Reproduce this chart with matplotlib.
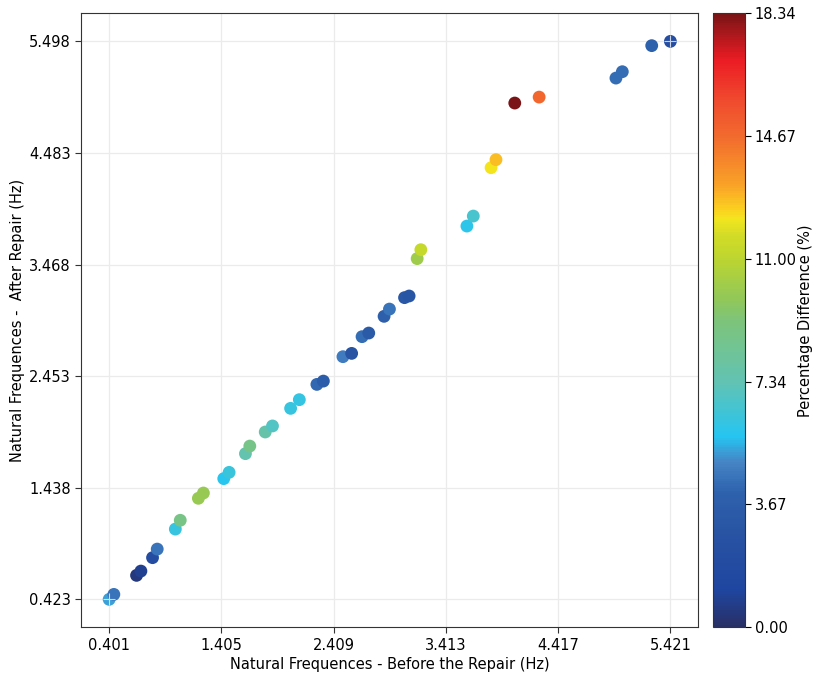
import numpy as np
import matplotlib
matplotlib.use("Agg")
import matplotlib.pyplot as plt
from matplotlib.colors import LinearSegmentedColormap

before_hz = [0.401, 0.443, 0.646, 0.685, 0.789, 0.831, 0.993, 1.037, 1.199, 1.244,
             1.426, 1.474, 1.620, 1.659, 1.797, 1.862, 2.024, 2.102, 2.259, 2.317,
             2.492, 2.570, 2.663, 2.723, 2.860, 2.908, 3.043, 3.084, 3.156, 3.189,
             3.601, 3.658, 3.817, 3.861, 4.029, 4.247, 4.934, 4.991, 5.254, 5.421]
after_hz = [0.423, 0.468, 0.641, 0.680, 0.802, 0.880, 1.062, 1.142, 1.342, 1.390,
            1.521, 1.578, 1.748, 1.817, 1.945, 2.000, 2.160, 2.239, 2.378, 2.408,
            2.630, 2.660, 2.812, 2.845, 2.997, 3.063, 3.167, 3.182, 3.522, 3.603,
            3.818, 3.909, 4.349, 4.422, 4.937, 4.991, 5.164, 5.222, 5.459, 5.498]
pct_diff = [5.3, 4.5, 0.5, 0.8, 2.0, 4.5, 6.2, 8.8, 10.0, 10.0,
            5.8, 6.3, 7.5, 8.7, 7.6, 6.9, 6.2, 6.1, 4.2, 3.6,
            4.7, 2.8, 4.3, 3.3, 3.8, 4.5, 3.2, 3.0, 10.2, 11.3,
            5.9, 6.6, 12.2, 12.8, 18.34, 14.8, 4.3, 4.3, 4.0, 2.2]
x_ticks = [0.401, 1.405, 2.409, 3.413, 4.417, 5.421]
y_ticks = [0.423, 1.438, 2.453, 3.468, 4.483, 5.498]
c_ticks = [0.00, 3.67, 7.34, 11.00, 14.67, 18.34]
c_max = 18.34

stops = [(0.00, "#282f66"), (0.06, "#1f46a0"), (0.15, "#2853a3"), (0.22, "#2e62ad"),
         (0.27, "#4686c6"), (0.31, "#25c5f2"), (0.40, "#62c3b2"), (0.50, "#7ec47a"),
         (0.53, "#8ec75c"), (0.60, "#bcd530"), (0.64, "#d3dc26"), (0.665, "#f2e61e"),
         (0.68, "#fbd21f"), (0.72, "#f9a327"), (0.80, "#f26b2e"), (0.86, "#ef4a2e"),
         (0.925, "#ec1c24"), (1.00, "#7b1416")]
cmap = LinearSegmentedColormap.from_list("mutedjet", stops)

fig = plt.figure(figsize=(8.15, 6.73), dpi=100)
ax = fig.add_axes([0.0995, 0.068, 0.7575, 0.912])
cax = fig.add_axes([0.8745, 0.068, 0.039, 0.912])

ax.grid(True, color="#ebebeb", linewidth=0.9, zorder=0)
ax.set_axisbelow(True)
sc = ax.scatter(before_hz, after_hz, c=pct_diff, cmap=cmap, vmin=0, vmax=c_max,
                s=85, edgecolors="none", zorder=3)
ax.scatter([before_hz[0], before_hz[-1]], [after_hz[0], after_hz[-1]], marker="+",
           s=85, color="white", linewidths=0.8, alpha=0.75, zorder=4)

ax.set_xticks(x_ticks)
ax.set_yticks(y_ticks)
ax.set_xticklabels([f"{v:.3f}" for v in x_ticks])
ax.set_yticklabels([f"{v:.3f}" for v in y_ticks])
ax.tick_params(labelsize=10.5, color="#333333", length=4)
ax.set_xlabel("Natural Frequences - Before the Repair (Hz)", fontsize=10.5, labelpad=3)
ax.set_ylabel("Natural Frequences -  After Repair (Hz)", fontsize=10.5, labelpad=3)
for sp in ax.spines.values():
    sp.set_color("#333333")

cb = fig.colorbar(sc, cax=cax)
cb.set_ticks(c_ticks)
cb.set_ticklabels([f"{v:.2f}" for v in c_ticks])
cb.ax.tick_params(labelsize=10.5, length=4)
cb.set_label("Percentage Difference (%)", fontsize=10.5, labelpad=1)
cb.outline.set_edgecolor("#333333")

fig.savefig("out.png", dpi=100)
